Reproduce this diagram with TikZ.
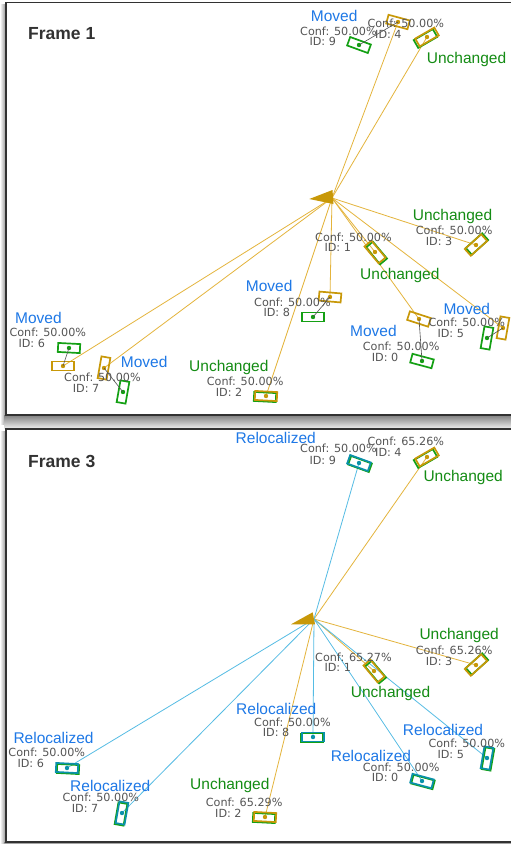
\documentclass[tikz,border=0pt]{standalone}
\usepackage{fontspec}
\setmainfont{Liberation Sans}
\newfontfamily\conffont{DejaVu Sans}
\definecolor{goldc}{RGB}{200,152,8}
\definecolor{goldl}{RGB}{228,180,60}
\definecolor{greenc}{RGB}{20,160,20}
\definecolor{tealc}{RGB}{10,145,170}
\definecolor{bluel}{RGB}{85,188,228}
\definecolor{bluet}{RGB}{30,120,230}
\definecolor{greent}{RGB}{20,140,20}
\definecolor{confgray}{RGB}{85,85,85}
\definecolor{linkgray}{RGB}{80,80,80}
\definecolor{framec}{RGB}{50,50,50}
\pgfdeclarelayer{bg}
\pgfdeclarelayer{lines}
\pgfsetlayers{bg,lines,main}
\tikzset{
  boxbase/.style={line width=1.7pt, minimum width=22pt, minimum height=9pt, inner sep=0pt, shape=rectangle},
  gbox/.style={boxbase, draw=goldc},
  grbox/.style={boxbase, draw=greenc},
  tbox/.style={boxbase, draw=tealc},
  status/.style={anchor=base west, inner sep=0pt, font=\fontsize{15.5}{15.5}\selectfont},
  movedlbl/.style={status, text=bluet},
  unchlbl/.style={status, text=greent},
  conflbl/.style={anchor=base west, inner sep=0pt, font=\conffont\fontsize{11.2}{11.2}\selectfont, text=confgray},
  titlelbl/.style={anchor=base west, inner sep=0pt, font=\bfseries\fontsize{17.5}{17.5}\selectfont, text=framec},
  gline/.style={draw=goldl, line width=0.8pt},
  bline/.style={draw=bluel, line width=0.8pt},
  linkline/.style={draw=linkgray, line width=0.6pt},
  panelframe/.style={draw=framec, line width=1.5pt},
}
\begin{document}
\begin{tikzpicture}[x=1pt,y=-1pt]
\useasboundingbox (0,0) rectangle (511,844);
\begin{pgfonlayer}{bg}
  \fill[white] (0,0) rectangle (511,844);
  % shadows
  \shade[left color=white, right color=black!45] (0,4) rectangle (6,424);
  \shade[top color=black!50, bottom color=black!8] (4,415) rectangle (511,428);
  \shade[left color=white, right color=black!45] (0,431) rectangle (6,844);
  \shade[top color=black!50, bottom color=black!20] (4,842) rectangle (511,844);
  % panels
  \fill[white] (6,2.5) rectangle (511,415);
  \draw[panelframe] (511,2.5) -- (6,2.5) -- (6,415) -- (511,415);
  \fill[white] (6,429) rectangle (511,842);
  \draw[panelframe] (511,429) -- (6,429) -- (6,842) -- (511,842);
\end{pgfonlayer}

\node[titlelbl] (title1) at (28,39.5) {Frame 1};
\node[titlelbl] (title3) at (28,467.5) {Frame 3};

% ================= Frame 1 =================
\coordinate (r1) at (332,198);
\fill[goldc] (309.3,199) -- (332.5,190) -- (333.5,204) -- cycle;

% boxes
\node[gbox,rotate=-15] (a9) at (398,22) {};
\node[grbox,rotate=-20] (b9) at (359,45) {};
\node[grbox,rotate=30] (b4) at (425.5,38.5) {};
\node[gbox,rotate=30] (a4) at (427,37) {};
\node[grbox,rotate=42] (b3) at (477,244) {};
\node[gbox,rotate=42] (a3) at (476,245) {};
\node[grbox,rotate=-50] (b1) at (376.5,253) {};
\node[gbox,rotate=-50] (a1) at (375,252) {};
\node[gbox,rotate=-5] (a8) at (330,297) {};
\node[grbox] (b8) at (313,317) {};
\node[gbox] (a6) at (63,366) {};
\node[grbox,rotate=-3] (b6) at (69,348) {};
\node[gbox,rotate=-100] (a7) at (104,368) {};
\node[grbox,rotate=-100] (b7) at (123,392) {};
\node[grbox,rotate=-3] (b2) at (265,397) {};
\node[gbox,rotate=-3] (a2) at (266,396) {};
\node[gbox,rotate=-18] (a0) at (419,319) {};
\node[grbox,rotate=-15] (b0) at (422,361) {};
\node[gbox,rotate=-100] (a5) at (503,328) {};
\node[grbox,rotate=-100] (b5) at (487,338) {};

\begin{pgfonlayer}{lines}
  \foreach \n in {a9,a4,a3,a1,a8,a6,a7,a2,a0,a5} {\draw[gline] (r1) -- (\n.center);}
\end{pgfonlayer}
\foreach \n in {a9,a4,a3,a1,a8,a6,a7,a2,a0,a5} {\fill[goldc] (\n.center) circle (2.2pt);}
\foreach \n in {b9,b8,b6,b7,b0,b5} {\fill[greenc] (\n.center) circle (2.2pt);}
\foreach \n in {9,8,6,7,0,5} {\draw[linkline] (a\n.center) -- (b\n.center);}

% labels
\node[movedlbl] (s9) at (310.7,21.7) {Moved};
\node[conflbl] (c9) at (300,35) {Conf: 50.00\%};
\node[conflbl] (i9) at (309.3,45.7) {ID: 9};
\node[conflbl] (c4) at (367.3,27.3) {Conf: 50.00\%};
\node[conflbl] (i4) at (375,38.3) {ID: 4};
\node[unchlbl] (s4) at (426.7,63.3) {Unchanged};
\node[unchlbl] (s3) at (412.7,220.7) {Unchanged};
\node[conflbl] (c3) at (415.7,234.3) {Conf: 50.00\%};
\node[conflbl] (i3) at (425.7,245) {ID: 3};
\node[conflbl] (c1) at (315,241) {Conf: 50.00\%};
\node[conflbl] (i1) at (324.3,251.7) {ID: 1};
\node[unchlbl] (s1) at (360,279.3) {Unchanged};
\node[movedlbl] (s8) at (245.7,291.7) {Moved};
\node[conflbl] (c8) at (254,306) {Conf: 50.00\%};
\node[conflbl] (i8) at (263.3,316.7) {ID: 8};
\node[movedlbl] (s6) at (15,323.3) {Moved};
\node[conflbl] (c6) at (9.3,336.7) {Conf: 50.00\%};
\node[conflbl] (i6) at (18.3,347.7) {ID: 6};
\node[movedlbl] (s7) at (120.7,367.3) {Moved};
\node[conflbl] (c7) at (64,381) {Conf: 50.00\%};
\node[conflbl] (i7) at (72.7,392) {ID: 7};
\node[unchlbl] (s2) at (189,371.7) {Unchanged};
\node[conflbl] (c2) at (206.7,385) {Conf: 50.00\%};
\node[conflbl] (i2) at (215.7,396.7) {ID: 2};
\node[movedlbl] (s5) at (443.3,314.3) {Moved};
\node[conflbl] (c5) at (428.3,326.7) {Conf: 50.00\%};
\node[conflbl] (i5) at (437.3,337.7) {ID: 5};
\node[movedlbl] (s0) at (350,336) {Moved};
\node[conflbl] (c0) at (362.7,350) {Conf: 50.00\%};
\node[conflbl] (i0) at (371.7,361.3) {ID: 0};

% ================= Frame 3 =================
\coordinate (r3) at (314,619);
\fill[goldc] (291,624.3) -- (312.7,612.3) -- (315,624.3) -- cycle;

\node[grbox,rotate=-20] (e9) at (360,464) {};
\node[tbox,rotate=-20] (d9) at (359,463) {};
\node[grbox,rotate=30] (e4) at (425.5,458.5) {};
\node[gbox,rotate=30] (d4) at (427,457) {};
\node[grbox,rotate=42] (e3) at (477,664) {};
\node[gbox,rotate=42] (d3) at (476,665) {};
\node[grbox,rotate=-50] (e1) at (375.5,672) {};
\node[gbox,rotate=-50] (d1) at (374,671) {};
\node[grbox] (e8) at (312,738) {};
\node[tbox] (d8) at (313,737) {};
\node[grbox,rotate=-3] (e6) at (68,769) {};
\node[tbox,rotate=-3] (d6) at (67,768) {};
\node[grbox,rotate=-100] (e7) at (121,814) {};
\node[tbox,rotate=-100] (d7) at (122,813) {};
\node[grbox,rotate=-3] (e2) at (264,818) {};
\node[gbox,rotate=-3] (d2) at (265,817) {};
\node[grbox,rotate=-15] (e0) at (423,782) {};
\node[tbox,rotate=-15] (d0) at (422,781) {};
\node[grbox,rotate=-100] (e5) at (488,759) {};
\node[tbox,rotate=-100] (d5) at (487,758) {};

\begin{pgfonlayer}{lines}
  \foreach \n in {d4,d3,d1,d2} {\draw[gline] (r3) -- (\n.center);}
  \foreach \n in {d9,d8,d6,d7,d0,d5} {\draw[bline] (r3) -- (\n.center);}
\end{pgfonlayer}
\foreach \n in {d4,d3,d1,d2} {\fill[goldc] (\n.center) circle (2.2pt);}
\foreach \n in {d9,d8,d6,d7,d0,d5} {\fill[tealc] (\n.center) circle (2.2pt);}

\node[movedlbl] (u9) at (235.5,443.3) {Relocalized};
\node[conflbl] (f9) at (300,452.7) {Conf: 50.00\%};
\node[conflbl] (j9) at (309.3,464) {ID: 9};
\node[conflbl] (f4) at (367.3,445) {Conf: 65.26\%};
\node[conflbl] (j4) at (375,456.7) {ID: 4};
\node[unchlbl] (u4) at (423.3,481) {Unchanged};
\node[unchlbl] (u3) at (419.3,639.3) {Unchanged};
\node[conflbl] (f3) at (415.7,654) {Conf: 65.26\%};
\node[conflbl] (j3) at (425.7,665) {ID: 3};
\node[conflbl] (f1) at (315,661) {Conf: 65.27\%};
\node[conflbl] (j1) at (324.3,671.7) {ID: 1};
\node[unchlbl] (u1) at (350.7,697.3) {Unchanged};
\node[movedlbl] (u8) at (236,714) {Relocalized};
\node[conflbl] (f8) at (254,726) {Conf: 50.00\%};
\node[conflbl] (j8) at (262.7,736.7) {ID: 8};
\node[movedlbl] (u6) at (13.3,743.3) {Relocalized};
\node[conflbl] (f6) at (8.3,756.7) {Conf: 50.00\%};
\node[conflbl] (j6) at (17.3,767.7) {ID: 6};
\node[movedlbl] (u7) at (70,791.7) {Relocalized};
\node[conflbl] (f7) at (62.3,801.7) {Conf: 50.00\%};
\node[conflbl] (j7) at (71.7,812.7) {ID: 7};
\node[unchlbl] (u2) at (190,789.3) {Unchanged};
\node[conflbl] (f2) at (205.7,806) {Conf: 65.29\%};
\node[conflbl] (j2) at (215,817.3) {ID: 2};
\node[movedlbl] (u5) at (402.7,735) {Relocalized};
\node[conflbl] (f5) at (428.3,747.3) {Conf: 50.00\%};
\node[conflbl] (j5) at (437.3,758.3) {ID: 5};
\node[movedlbl] (u0) at (330.7,761) {Relocalized};
\node[conflbl] (f0) at (362.7,771) {Conf: 50.00\%};
\node[conflbl] (j0) at (371.7,781.7) {ID: 0};
\end{tikzpicture}
\end{document}
